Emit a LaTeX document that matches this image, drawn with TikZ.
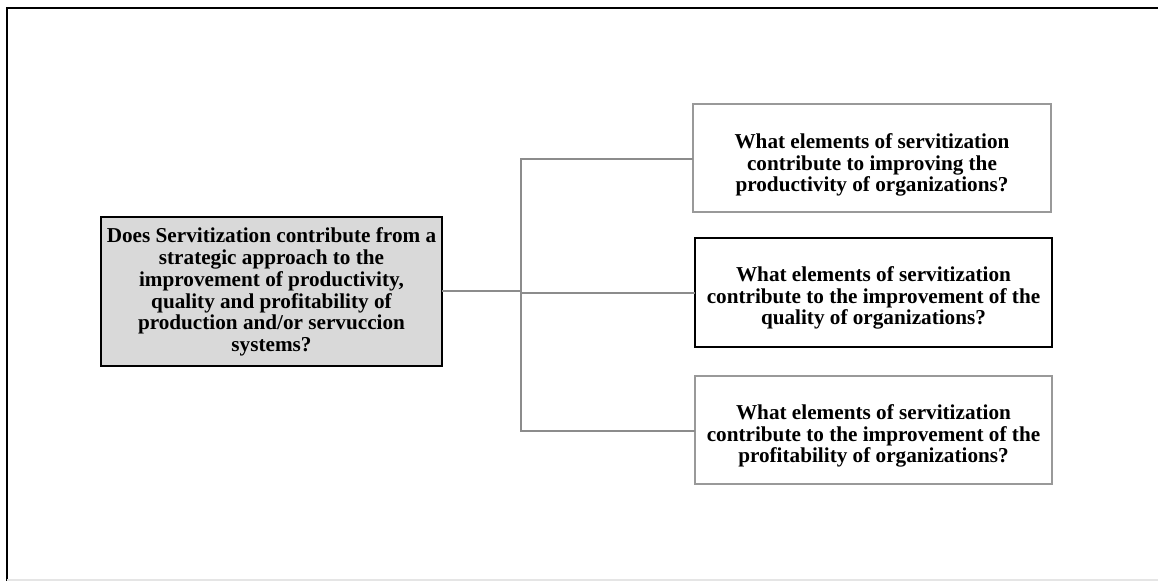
\documentclass[tikz,border=0pt]{standalone}
\usepackage{fontspec}
\setmainfont{Liberation Serif}
\definecolor{conn}{HTML}{8C8C8C}
\definecolor{boxgrey}{HTML}{999999}
\definecolor{mainfill}{HTML}{D9D9D9}
\begin{document}
\begin{tikzpicture}[x=0.75pt,y=-0.75pt,
  qtext/.style={font=\fontsize{15.9}{16.3}\selectfont\bfseries, align=center, inner sep=0pt},
  mainbox/.style={draw=black, line width=2pt, fill=mainfill},
  subbox/.style={draw=boxgrey, line width=2pt, fill=white},
  keybox/.style={draw=black, line width=2pt, fill=white},
  link/.style={draw=conn, line width=2pt}]
\useasboundingbox (0,0) rectangle (1158,581);
% frame
\draw[line width=1.7pt] (7,581) -- (7,8) -- (1158,8);
\draw[color=black!10, line width=1pt] (7,580) -- (1158,580);
% boxes
\path[mainbox] (101,217) rectangle (442,366);
\node[qtext] (main) at (271.5,292) {Does Servitization contribute from a\\strategic approach to the\\improvement of productivity,\\quality and profitability of\\production and/or servuccion\\systems?};
\coordinate (mainE) at (442,291);
\path[subbox] (693,104) rectangle (1051,212);
\node[qtext] (q1) at (872,165) {What elements of servitization\\contribute to improving the\\productivity of organizations?};
\coordinate (q1W) at (693,159);
\path[keybox] (695,238) rectangle (1052,347);
\node[qtext] (q2) at (873.5,298) {What elements of servitization\\contribute to the improvement of the\\quality of organizations?};
\coordinate (q2W) at (695,293);
\path[subbox] (695,376) rectangle (1052,484);
\node[qtext] (q3) at (873.5,436) {What elements of servitization\\contribute to the improvement of the\\profitability of organizations?};
\coordinate (q3W) at (695,431);
% connectors
\coordinate (j) at (521,291);
\draw[link] (mainE) -- (j);
\draw[link] (j) |- (q1W);
\draw[link] (j) |- (q3W);
\draw[link] (521,293) -- (q2W);
\end{tikzpicture}
\end{document}
